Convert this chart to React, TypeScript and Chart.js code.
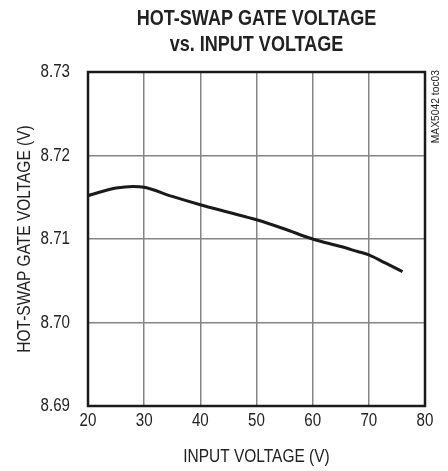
import React, { useEffect, useRef } from "react";
import { Chart, registerables } from "chart.js";

Chart.register(...registerables);

const inputVoltage = [20, 22, 25, 28, 30, 35, 40, 45, 50, 55, 60, 65, 68, 70, 73, 76];
const gateVoltage = [8.7152, 8.7156, 8.7161, 8.7163, 8.7162, 8.7151, 8.7141, 8.7132, 8.7123, 8.7112, 8.71, 8.7091, 8.7085, 8.7081, 8.7071, 8.7061];
const xTicks = [20, 30, 40, 50, 60, 70, 80];
const yTicks = [8.69, 8.7, 8.71, 8.72, 8.73];
const titleLines = ["HOT-SWAP GATE VOLTAGE", "vs. INPUT VOLTAGE"];
const xTitle = "INPUT VOLTAGE (V)";
const yTitle = "HOT-SWAP GATE VOLTAGE (V)";
const noteText = "MAX5042 toc03";

const FONT = "'Liberation Sans', Arial, sans-serif";
const TEXT = "#222";

function txt(ctx: CanvasRenderingContext2D, s: string, x: number, y: number, size: number, bold: boolean, sx: number, rot = 0, align: CanvasTextAlign = "center") {
  ctx.save();
  ctx.translate(x, y);
  ctx.rotate(rot);
  ctx.scale(sx, 1);
  ctx.font = `${bold ? "bold " : ""}${size}px ${FONT}`;
  ctx.fillStyle = TEXT;
  ctx.textAlign = align;
  ctx.textBaseline = "middle";
  ctx.fillText(s, 0, 0);
  ctx.restore();
}

const decorPlugin = {
  id: "decor",
  afterDraw(chart: any) {
    const { ctx, chartArea, scales } = chart;
    ctx.save();
    ctx.strokeStyle = "#1a1a1a";
    ctx.lineWidth = 2.5;
    ctx.strokeRect(chartArea.left, chartArea.top, chartArea.right - chartArea.left, chartArea.bottom - chartArea.top);
    ctx.restore();
    const cx = (chartArea.left + chartArea.right) / 2;
    const cy = (chartArea.top + chartArea.bottom) / 2;
    txt(ctx, titleLines[0], cx, 18.5, 22, true, 0.82);
    txt(ctx, titleLines[1], cx, 45, 22, true, 0.82);
    yTicks.forEach((v) => {
      txt(ctx, v.toFixed(2), chartArea.left - 18, scales.y.getPixelForValue(v) + 0.5, 18, false, 0.84, 0, "right");
    });
    xTicks.forEach((v) => {
      txt(ctx, String(v), scales.x.getPixelForValue(v), chartArea.bottom + 15, 18, false, 0.84);
    });
    txt(ctx, xTitle, cx, chartArea.bottom + 51, 18, false, 0.86);
    txt(ctx, yTitle, 25, cy, 18, false, 0.86, -Math.PI / 2);
    txt(ctx, noteText, chartArea.right + 11.5, chartArea.top - 2, 10.3, false, 1, -Math.PI / 2, "right");
  },
};

export default function App() {
  const ref = useRef<HTMLCanvasElement | null>(null);
  useEffect(() => {
    if (!ref.current) return;
    const chart = new Chart(ref.current, {
      type: "line",
      data: {
        datasets: [
          {
            data: inputVoltage.map((x, i) => ({ x, y: gateVoltage[i] })),
            borderColor: "#1a1a1a",
            borderWidth: 3,
            pointRadius: 0,
            cubicInterpolationMode: "monotone",
            fill: false,
          },
        ],
      },
      options: {
        animation: false,
        responsive: true,
        maintainAspectRatio: false,
        layout: { padding: { top: 72, right: 23, left: 0, bottom: 0 } },
        plugins: { legend: { display: false }, tooltip: { enabled: false }, title: { display: false } },
        scales: {
          x: {
            type: "linear",
            min: xTicks[0],
            max: xTicks[xTicks.length - 1],
            afterBuildTicks: (s: any) => {
              s.ticks = xTicks.map((v) => ({ value: v }));
            },
            afterFit: (s: any) => {
              s.height = 65;
            },
            ticks: { display: false },
            grid: { color: "#858585", lineWidth: 1.5, drawTicks: false },
            border: { display: false },
            title: { display: false },
          },
          y: {
            type: "linear",
            min: yTicks[0],
            max: yTicks[yTicks.length - 1],
            afterBuildTicks: (s: any) => {
              s.ticks = yTicks.map((v) => ({ value: v }));
            },
            afterFit: (s: any) => {
              s.width = 88;
            },
            ticks: { display: false },
            grid: { color: "#858585", lineWidth: 1.5, drawTicks: false },
            border: { display: false },
            title: { display: false },
          },
        },
      },
      plugins: [decorPlugin],
    } as any);
    return () => chart.destroy();
  }, []);
  return (
    <div style={{ position: "absolute", left: 0, top: 0, width: 448, height: 471 }}>
      <canvas ref={ref} />
    </div>
  );
}
